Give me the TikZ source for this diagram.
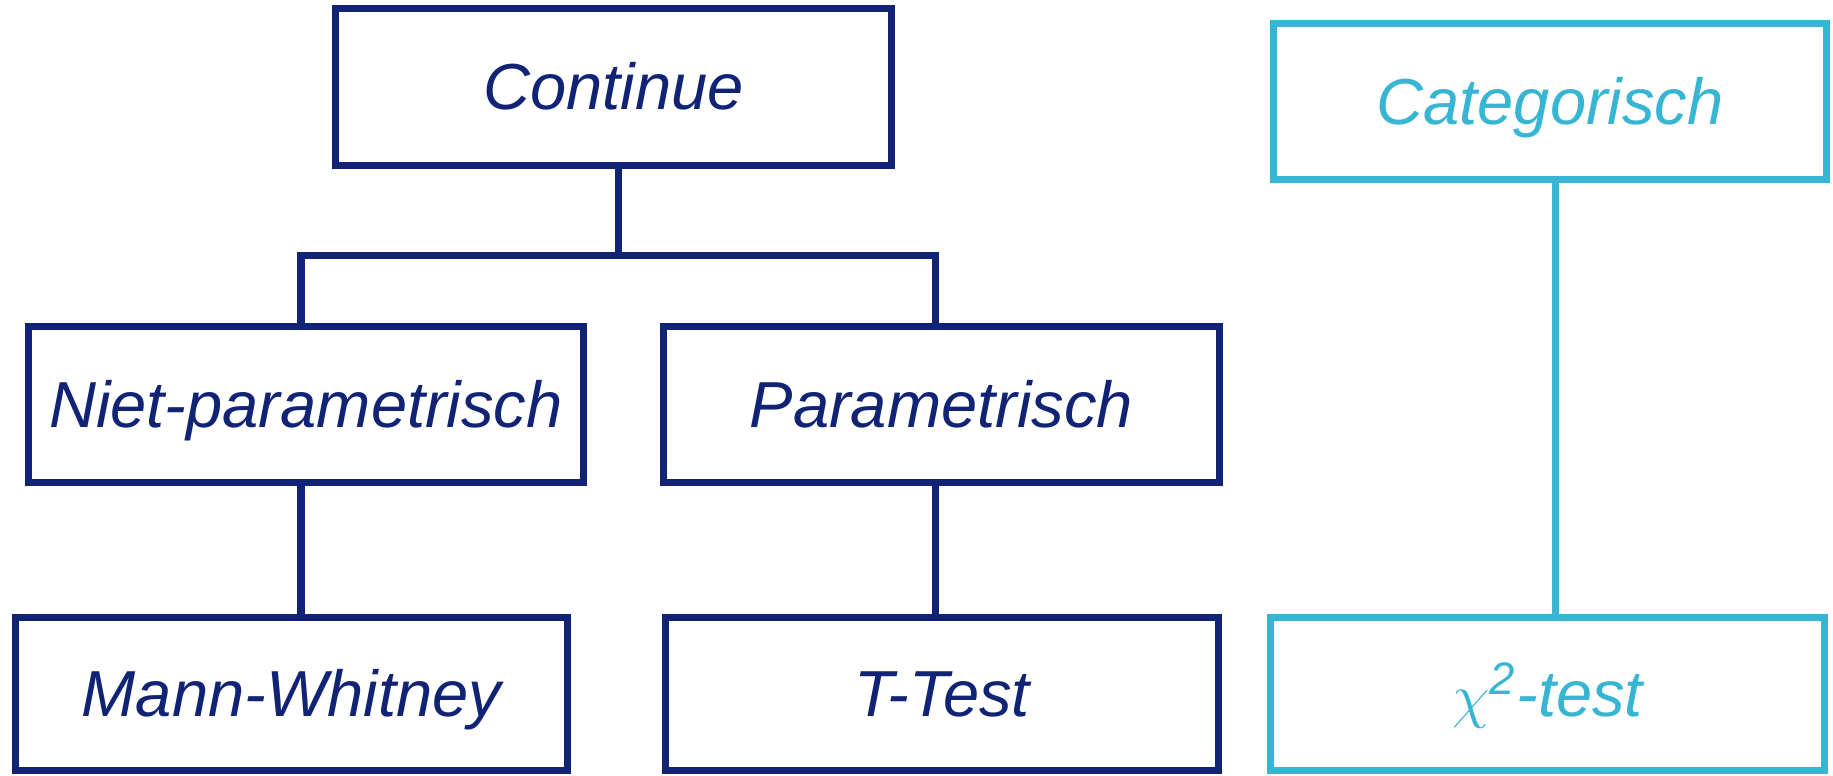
\documentclass[tikz,border=0pt]{standalone}
\usepackage{fontspec}
\setmainfont{Liberation Sans}
\definecolor{navy}{RGB}{16,35,117}
\definecolor{cyanb}{RGB}{56,181,211}
\begin{document}
\begin{tikzpicture}[x=0.01cm,y=-0.01cm,
  box/.style={draw=navy, line width=2pt, text=navy, inner sep=0pt,
    font=\fontsize{18.5}{22}\selectfont\itshape, text height=12.8pt, text depth=0pt},
  catbox/.style={box, draw=cyanb, text=cyanb},
  link/.style={draw=navy, line width=2pt},
  catlink/.style={draw=cyanb, line width=2pt}]
\useasboundingbox (0,0) rectangle (1833,775);
\node[box, minimum width=5.56cm, minimum height=1.56cm] (cont) at (613.5,87) {Continue};
\node[box, minimum width=5.555cm, minimum height=1.557cm] (niet) at (306,404.6) {Niet-parametrisch};
\node[box, minimum width=5.555cm, minimum height=1.557cm] (param) at (941.3,404.6) {Parametrisch};
\node[box, minimum width=5.52cm, minimum height=1.533cm] (mann) at (291.4,694) {Mann-Whitney};
\node[box, minimum width=5.53cm, minimum height=1.533cm] (ttest) at (942,694) {T-Test};
\node[catbox, minimum width=5.53cm, minimum height=1.556cm] (cat) at (1550,101.8) {Categorisch};
\node[catbox, minimum width=5.54cm, minimum height=1.533cm] (chi) at (1547.5,694) {$\chi$\textsuperscript{2}-test};
\coordinate (jc) at (618.5,255.7);
\coordinate (jl) at (301,255.7);
\coordinate (jr) at (935.8,255.7);
\coordinate (kc) at (1555.5,400);
\draw[link] (cont.south -| jc) -- (jc);
\draw[link] (niet.north -| jl) -- (jl) -- (jr) -- (param.north -| jr);
\draw[link] (niet.south -| jl) -- (mann.north -| jl);
\draw[link] (param.south -| jr) -- (ttest.north -| jr);
\draw[catlink] (cat.south -| kc) -- (chi.north -| kc);
\end{tikzpicture}
\end{document}
